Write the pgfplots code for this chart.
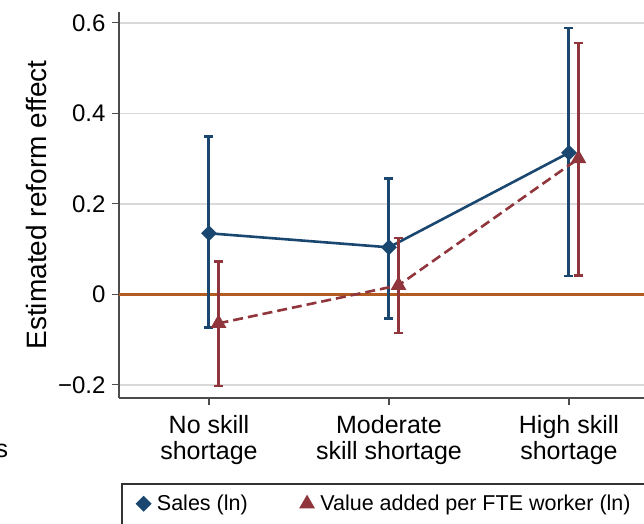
\documentclass[border=0pt]{standalone}
\usepackage{pgfplots}
\usepackage{pgfplotstable}
\pgfplotsset{compat=1.18}
\usepackage{fontspec}
\setmainfont{Liberation Sans}

\definecolor{sblue}{RGB}{26,71,111}
\definecolor{sred}{RGB}{144,53,59}
\definecolor{sorange}{RGB}{178,92,34}

% x, estimate, upper and lower CI distance
\pgfplotstableread{
x y ep em
1 0.135 0.214 0.208
2 0.104 0.152 0.157
3 0.313 0.276 0.273
}\sales
\pgfplotstableread{
x y ep em
1.053 -0.064 0.137 0.139
2.053 0.020 0.104 0.106
3.053 0.300 0.256 0.258
}\valueadded

\begin{document}
\begin{tikzpicture}
\begin{axis}[
    at={(119pt,125pt)}, anchor=south west,
    scale only axis, width=525pt, height=386pt,
    xmin=0.5, xmax=3.417, ymin=-0.229, ymax=0.624,
    axis x line*=bottom, axis y line*=left,
    axis line style={black!70, line width=1.2pt},
    tick style={black!70, line width=1.2pt},
    tick align=outside, major tick length=7pt,
    xtick={1,2,3},
    xticklabels={{No skill\\shortage},{Moderate\\skill shortage},{High skill\\shortage}},
    xticklabel style={align=center, font=\fontsize{25}{26}\selectfont, yshift=-7pt},
    ytick={-0.2,0,0.2,0.4,0.6},
    yticklabels={−0.2,0,0.2,0.4,0.6},
    yticklabel style={font=\fontsize{24}{26}\selectfont, xshift=-3pt},
    ymajorgrids, grid style={black!15, line width=1.3pt},
    ylabel={Estimated reform effect},
    every axis y label/.style={at={(axis description cs:-0.139,0.5)}, rotate=90, anchor=base},
    ylabel style={font=\fontsize{28}{30}\selectfont},
    every error bar/.append style={line width=3pt, solid},
    legend columns=2,
    legend style={at={(0.006,-0.2228)}, anchor=north west,
        draw=none, fill=none, inner ysep=9pt,
        font=\fontsize{21.5}{24}\selectfont,
        /tikz/every even column/.append style={column sep=39pt}},
    legend image code/.code={\path (-17pt,0pt) (10pt,0pt);
        \draw[#1, solid] plot coordinates {(0pt,0pt)};},
]
\addplot[sorange, line width=2.5pt, forget plot] coordinates {(0.5,0) (3.417,0)};

\addplot[sblue, line width=2.6pt, mark=square*, mark size=4.3pt,
    mark options={rotate=45, solid},
    error bars/.cd, y dir=both, y explicit,
    error mark options={sblue, rotate=90, mark size=4.5pt, line width=2.4pt}]
    table[x=x, y=y, y error plus=ep, y error minus=em]{\sales};
\addlegendentry{Sales (ln)}

\addplot[sred, line width=2.6pt, dashed, dash pattern=on 10pt off 5pt,
    mark=triangle*, mark size=6.5pt, mark options={solid},
    error bars/.cd, y dir=both, y explicit,
    error mark options={sred, rotate=90, mark size=4.5pt, line width=2.4pt}]
    table[x=x, y=y, y error plus=ep, y error minus=em]{\valueadded};
\addlegendentry{Value added per FTE worker (ln)}
\end{axis}
% legend frame runs past the cropped right and bottom edges
\draw[black!80, line width=1.2pt] (122pt,-10pt) rectangle (720pt,39pt);
\node[anchor=base west, inner sep=0pt, font=\fontsize{25}{26}\selectfont] at (-4.5pt,66pt) {s};
\pgfresetboundingbox
\useasboundingbox (0pt,0pt) rectangle (644pt,523pt);
\end{tikzpicture}
\end{document}
